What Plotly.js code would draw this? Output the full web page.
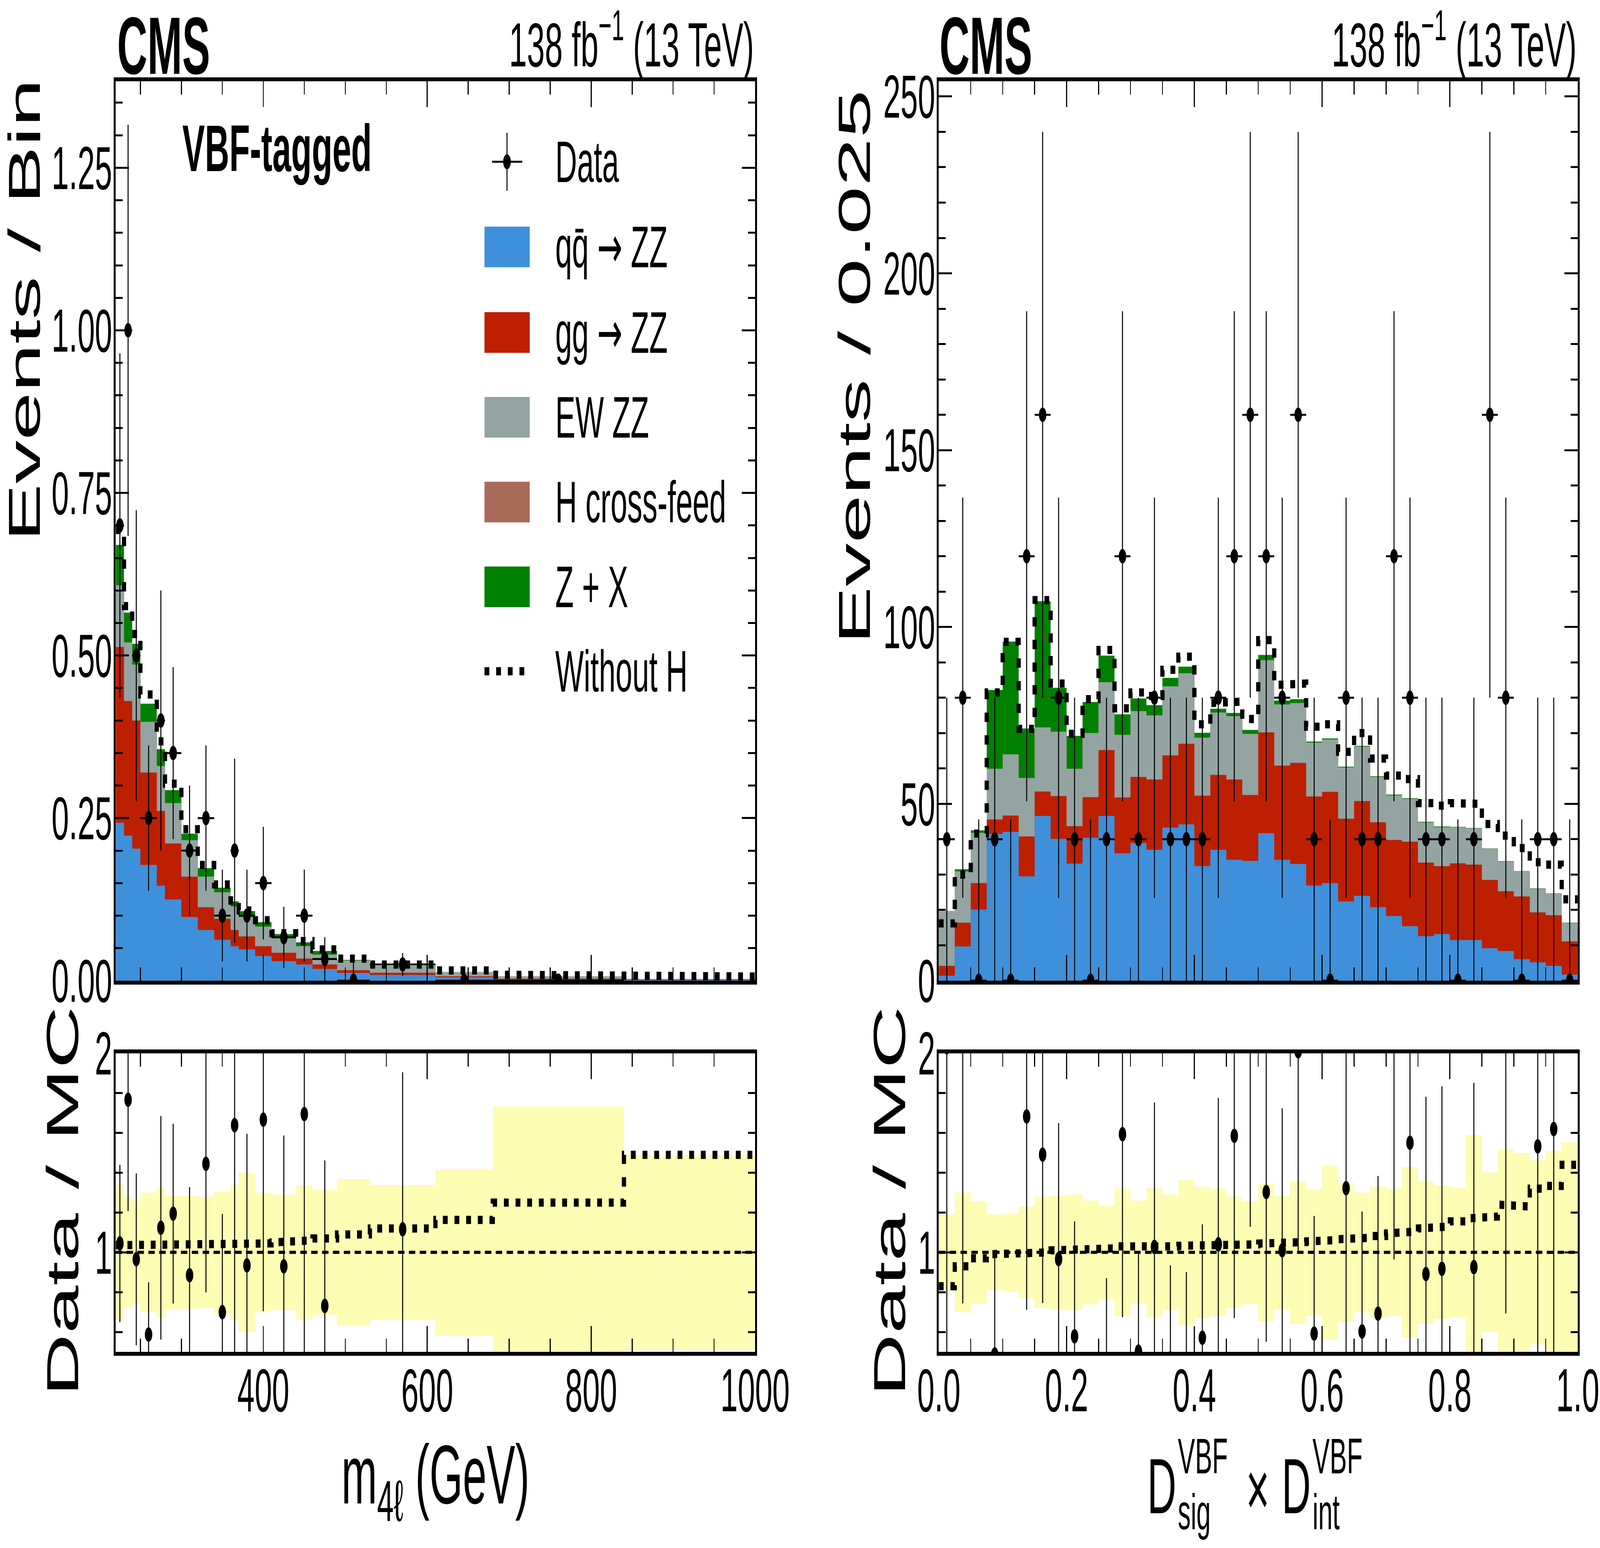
<!DOCTYPE html>
<html>
<head>
<meta charset="utf-8">
<script src="https://cdn.plot.ly/plotly-3.0.1.min.js"></script>
<style>html,body{margin:0;padding:0;background:#fff;overflow:hidden;}#chart{width:7959px;height:3962px;transform-origin:0 0;}</style>
</head>
<body>
<div id="chart"></div>
<script>
// ---------------- Left panel: m4l (GeV), VBF-tagged ----------------
const mEdges = [220,230,240,250,270,280,300,320,340,360,370,390,410,440,460,490,530,610,680,840,1000];
const mQQ  = [0.243,0.223,0.203,0.178,0.146,0.125,0.098,0.078,0.063,0.053,0.048,0.038,0.030,0.025,0.018,0.012,0.0088,0.0052,0.0015,0.0008];
const mGG  = [0.270,0.207,0.197,0.142,0.115,0.086,0.062,0.035,0.032,0.025,0.020,0.015,0.013,0.009,0.007,0.004,0.0034,0.0016,0.0015,0.0007];
const mEW  = [0.095,0.090,0.086,0.078,0.069,0.062,0.056,0.047,0.041,0.036,0.030,0.030,0.023,0.019,0.015,0.015,0.0096,0.0064,0.0036,0.0010];
const mHX  = [0,0,0,0,0,0,0,0,0,0,0,0,0,0,0,0,0,0,0,0];
const mZX  = [0.062,0.046,0.032,0.028,0.026,0.020,0.010,0.013,0.007,0.008,0.009,0.007,0.0057,0.006,0.0056,0.001,0.0006,0.0002,0.0002,0.0001];
const mNoH = [0.693,0.576,0.533,0.440,0.368,0.303,0.233,0.178,0.148,0.123,0.108,0.093,0.073,0.061,0.048,0.034,0.0248,0.0158,0.0092,0.0064];
const mCounts = [7,10,5,5,4,7,4,5,2,2,2,3,2,2,1,0,2,0,0,null];
const mUnc = [0.34,0.278,0.26,0.30,0.327,0.285,0.283,0.28,0.305,0.34,0.40,0.30,0.29,0.338,0.314,0.368,0.338,0.417,0.733,0.49];
const mRatioNoH = [1.036,1.036,1.036,1.036,1.036,1.036,1.036,1.04,1.04,1.042,1.042,1.045,1.05,1.06,1.07,1.09,1.12,1.163,1.25,1.49];

// ---------------- Right panel: D_sig x D_int ----------------
const dEdges = [0,0.025,0.05,0.075,0.1,0.125,0.15,0.175,0.2,0.225,0.25,0.275,0.3,0.325,0.35,0.375,0.4,0.425,0.45,0.475,0.5,0.525,0.55,0.575,0.6,0.625,0.65,0.675,0.7,0.725,0.75,0.775,0.8,0.825,0.85,0.875,0.9,0.925,0.95,0.975,1.0];
const dQQ = [1.4,9.7,20.1,41.5,42.1,29.5,46.6,40.1,33.1,40.4,46.6,36.0,38.9,37.0,43.3,44.2,32.4,37.0,34.2,33.9,41.7,34.2,33.0,26.9,27.6,22.4,24.0,20.8,18.3,15.4,12.6,13.2,11.5,11.5,9.2,8.4,6.1,5.2,4.2,1.7];
const dGG = [2.8,6.7,7.5,4.1,4.6,11.3,6.9,12.1,10.6,11.5,18.6,15.8,18.7,19.9,20.4,22.8,19.9,21.2,22.7,18.6,28.5,26.6,28.6,25.2,25.8,23.4,26.8,24.0,21.5,23.9,20.8,19.2,21.7,21.3,19.3,16.9,17.7,14.1,14.3,9.4];
const dEW = [15.5,14.5,14.2,14.3,17.3,16.5,18.1,18.2,16.2,18.1,19.2,17.7,18.6,18.1,19.5,19.9,16.4,17.6,17.9,17.3,20.4,17.3,16.9,15.2,14.8,14.5,15.4,12.8,12.6,12.1,11.3,11.0,10.2,10.3,8.8,8.4,7.1,6.7,6.1,5.2];
const dHX = [0,0,0,0,0,0,0,0,0,0,0,0,0,0,0,0,0,0,0,0,0,0,0,0,0,0,0,0,0,0,0,0,0,0,0,0,0,0,0,0];
const dZX = [0,0.6,0.7,22.3,31.9,14.0,35.7,12.4,9.3,8.8,7.5,5.8,3.6,2.9,2.4,1.9,1.4,1.1,0.9,1.1,1.5,1.1,1.1,0.3,0.3,0.2,0.2,0.2,0.2,0.2,0.2,0.2,0.1,0.1,0.1,0.1,0.1,0.1,0.1,0.1];
const dNoH = [16.2,30.0,41.6,81.5,95.8,71.2,107.6,84.0,69.8,79.6,93.5,77.0,81.5,80.5,87.9,91.6,72.5,78.5,78.9,74.0,96.3,83.6,84.0,71.8,72.5,64.7,70.0,62.8,58.0,57.0,50.2,49.5,50.2,50.0,44.3,41.0,37.5,33.5,32.8,23.0];
const dCounts = [1,2,0,1,0,3,4,2,1,0,1,3,1,2,1,1,1,2,3,4,3,2,4,1,0,2,1,1,3,2,1,1,0,1,4,2,0,1,1,0];
const dUnc = [0.19,0.30,0.256,0.19,0.195,0.23,0.28,0.286,0.29,0.26,0.235,0.32,0.26,0.326,0.29,0.365,0.33,0.32,0.28,0.258,0.346,0.285,0.36,0.316,0.435,0.35,0.30,0.33,0.32,0.428,0.36,0.334,0.325,0.59,0.40,0.52,0.50,0.463,0.51,0.554];
const dRatioNoH = [0.83,0.93,0.97,0.99,1.0,1.0,1.0,1.01,1.02,1.02,1.02,1.03,1.02,1.03,1.03,1.033,1.036,1.038,1.04,1.04,1.044,1.05,1.052,1.055,1.062,1.066,1.073,1.082,1.095,1.105,1.12,1.13,1.156,1.17,1.18,1.24,1.23,1.32,1.334,1.44];

const zeroCountErr = 1.14; // upper error drawn for empty bins (events)

// Legend / text
const ARROW = '<span style="font-family:DejaVu Sans">\u2192</span>';
const legendLabels = ['Data','qq\u0304 ' + ARROW + ' ZZ','gg ' + ARROW + ' ZZ','EW ZZ','H cross-feed','Z + X','Without H'];
const COL = {qq:'#3f90da', gg:'#bd1f01', ew:'#94a4a2', hx:'#a96b59', zx:'#008000', band:'#fdfdb4'};

// ---------------- helpers ----------------
const W = 7959, H = 3962;
const FONT = 'Liberation Sans, Arial, Helvetica, sans-serif';
const px = x => x / W;
const py = y => 1 - y / H;

function stepXY(edges, vals) {
  const xs = [], ys = [];
  for (let i = 0; i < vals.length; i++) {
    xs.push(edges[i], edges[i+1]);
    ys.push(vals[i], vals[i]);
  }
  return {xs, ys};
}
function cum(arrs) {
  const out = []; let run = arrs[0].map(() => 0);
  for (const a of arrs) { run = run.map((v, i) => v + a[i]); out.push(run.slice()); }
  return out;
}
function fillTrace(edges, vals, color, xa, ya) {
  const s = stepXY(edges, vals);
  return {type:'scatter', mode:'lines', x:s.xs, y:s.ys, line:{width:0, color:color},
          fill:'tozeroy', fillcolor:color, xaxis:xa, yaxis:ya, hoverinfo:'skip', showlegend:false};
}
function lineTrace(edges, vals, xa, ya, width, dash) {
  const s = stepXY(edges, vals);
  return {type:'scatter', mode:'lines', x:s.xs, y:s.ys, line:{width:width, color:'black', dash:dash},
          xaxis:xa, yaxis:ya, hoverinfo:'skip', showlegend:false};
}
function bandTrace(edges, unc, xa, ya) {
  const up = stepXY(edges, unc.map(u => 1 + u));
  const lo = stepXY(edges, unc.map(u => 1 - u));
  return {type:'scatter', mode:'lines', x:up.xs.concat(lo.xs.slice().reverse()),
          y:up.ys.concat(lo.ys.slice().reverse()), fill:'toself', fillcolor:COL.band,
          line:{width:0, color:COL.band}, xaxis:xa, yaxis:ya, hoverinfo:'skip', showlegend:false};
}

const DOT = '24px,34px';
const traces = [];

function buildPanel(edges, qq, gg, ew, hx, zx, noH, counts, unc, ratioNoH, xa, ya, xr, yr) {
  const c = cum([qq, gg, ew, hx, zx]);
  const total = c[4];
  traces.push(fillTrace(edges, c[4], COL.zx, xa, ya));
  traces.push(fillTrace(edges, c[3], COL.hx, xa, ya));
  traces.push(fillTrace(edges, c[2], COL.ew, xa, ya));
  traces.push(fillTrace(edges, c[1], COL.gg, xa, ya));
  traces.push(fillTrace(edges, c[0], COL.qq, xa, ya));
  traces.push(lineTrace(edges, noH, xa, ya, 21, DOT));
  const dx = [], dy = [], de = [], dw = [];
  const rx = [], ry = [], re = [];
  for (let i = 0; i < counts.length; i++) {
    const n = counts[i];
    if (n === null) continue;
    const w = edges[i+1] - edges[i];
    const v = n / w;
    dx.push((edges[i] + edges[i+1]) / 2); dy.push(v);
    de.push((n > 0 ? Math.sqrt(n) : zeroCountErr) / w); dw.push(w / 2);
    if (n > 0) { rx.push((edges[i] + edges[i+1]) / 2); ry.push(v / total[i]); re.push(Math.sqrt(n) / w / total[i]); }
  }
  traces.push({type:'scatter', mode:'markers', x:dx, y:dy, xaxis:xa, yaxis:ya,
    marker:{size:37, color:'black'},
    error_y:{type:'data', array:de, visible:true, color:'black', thickness:5, width:0},
    error_x:{type:'data', array:dw, visible:true, color:'black', thickness:5, width:0},
    hoverinfo:'skip', showlegend:false});
  traces.push(bandTrace(edges, unc, xr, yr));
  traces.push({type:'scatter', mode:'lines', x:[edges[0], edges[edges.length-1]], y:[1,1],
    line:{color:'black', width:8, dash:'32px,22px'}, xaxis:xr, yaxis:yr, hoverinfo:'skip', showlegend:false});
  traces.push(lineTrace(edges, ratioNoH, xr, yr, 21, DOT));
  traces.push({type:'scatter', mode:'markers', x:rx, y:ry, xaxis:xr, yaxis:yr,
    marker:{size:37, color:'black'},
    error_y:{type:'data', array:re, visible:true, color:'black', thickness:5, width:0},
    hoverinfo:'skip', showlegend:false});
}

buildPanel(mEdges, mQQ, mGG, mEW, mHX, mZX, mNoH, mCounts, mUnc, mRatioNoH, 'x', 'y', 'x2', 'y2');
buildPanel(dEdges, dQQ, dGG, dEW, dHX, dZX, dNoH, dCounts, dUnc, dRatioNoH, 'x3', 'y3', 'x4', 'y4');

// ---------------- axes ----------------
function ax(extra, minor) {
  return Object.assign({
    showline:true, linecolor:'black', linewidth:10, mirror:'ticks',
    ticks:'inside', ticklen:66, tickwidth:5, tickcolor:'black',
    showgrid:false, zeroline:false, fixedrange:true,
    tickfont:{family:FONT, size:155, color:'black'},
    minor:Object.assign({ticks:'inside', ticklen:34, tickwidth:5, tickcolor:'black', showgrid:false}, minor)
  }, extra);
}
const LX = [px(576), px(3756)], RX = [px(4670), px(7848)];
const TY = [py(2510), py(208)], BY = [py(3460), py(2696)];
const YSO = -23, XSO = -44;

const layout = {
  width:W, height:H, margin:{l:0, r:0, t:0, b:0},
  paper_bgcolor:'white', plot_bgcolor:'white', showlegend:false,
  font:{family:FONT, color:'black'},
  xaxis:  ax({domain:LX, anchor:'y',  range:[220,1000], dtick:200, tick0:0, showticklabels:false}, {dtick:50, tick0:0}),
  yaxis:  ax({domain:TY, anchor:'x',  range:[0,1.383], dtick:0.25, tick0:0, tickformat:'.2f', ticklabelstandoff:YSO}, {dtick:0.05, tick0:0}),
  xaxis2: ax({domain:LX, anchor:'y2', range:[220,1000], dtick:200, tick0:0, ticklabelstandoff:XSO}, {dtick:50, tick0:0}),
  yaxis2: ax({domain:BY, anchor:'x2', range:[0.5,2], dtick:1, tick0:0, ticklabelstandoff:YSO}, {dtick:0.2, tick0:0}),
  xaxis3: ax({domain:RX, anchor:'y3', range:[0,1], dtick:0.2, tick0:0, showticklabels:false}, {dtick:0.05, tick0:0}),
  yaxis3: ax({domain:TY, anchor:'x3', range:[0,254.3], dtick:50, tick0:0, ticklabelstandoff:YSO}, {dtick:10, tick0:0}),
  xaxis4: ax({domain:RX, anchor:'y4', range:[0,1], dtick:0.2, tick0:0, tickformat:'.1f', ticklabelstandoff:XSO}, {dtick:0.05, tick0:0}),
  yaxis4: ax({domain:BY, anchor:'x4', range:[0.5,2], dtick:1, tick0:0, ticklabelstandoff:YSO}, {dtick:0.2, tick0:0}),
  annotations:[], shapes:[]
};

function ann(text, x, y, size, opts) {
  layout.annotations.push(Object.assign({text:text, x:px(x), y:py(y), xref:'paper', yref:'paper',
    showarrow:false, font:{family:FONT, size:size, color:'black'}, xanchor:'left', yanchor:'middle', borderpad:0}, opts || {}));
}

// headers
ann('<b>CMS</b>', 582, 0, 208, {yanchor:'top'});
ann('<b>CMS</b>', 4672, 0, 208, {yanchor:'top'});
ann('138 fb<sup>\u22121</sup> (13 TeV)', 3752, 1, 160, {xanchor:'right', yanchor:'top'});
ann('138 fb<sup>\u22121</sup> (13 TeV)', 7844, 1, 160, {xanchor:'right', yanchor:'top'});
ann('<b>VBF-tagged</b>', 906, 380, 168);

// axis titles
ann('Events / Bin', 122, 794, 222, {textangle:-90, xanchor:'center'});
ann('Data / MC', 311, 3075, 222, {textangle:-90, xanchor:'center'});
ann('Events / 0.025', 4250, 940, 222, {textangle:-90, xanchor:'center'});
ann('Data / MC', 4425, 3075, 222, {textangle:-90, xanchor:'center'});
ann('m<sub>4\u2113</sub> (GeV)', 2166, 3790, 213, {xanchor:'center'});
// right x title: D_sig^VBF x D_int^VBF (super- and subscripts stacked)
const SCR = t => '<span style="font-size:128px">' + t + '</span>';
ann('D', 5779, 3803, 200, {xanchor:'center'});
ann(SCR('VBF') + '<br>' + SCR('sig'), 5858, 3654, 110, {yanchor:'top', align:'left'});
ann('\u00d7', 6256, 3810, 200, {xanchor:'center'});
ann('D', 6448, 3803, 200, {xanchor:'center'});
ann(SCR('VBF') + '<br>' + SCR('int'), 6528, 3654, 110, {yanchor:'top', align:'left'});

// legend
const rows = [414, 632, 851, 1068, 1285, 1502, 1718];
const boxCols = [null, COL.qq, COL.gg, COL.ew, COL.hx, COL.zx, null];
rows.forEach((ry, i) => {
  ann(legendLabels[i], 2761, ry, 150);
  if (boxCols[i]) {
    layout.shapes.push({type:'rect', xref:'paper', yref:'paper', x0:px(2410), x1:px(2635), y0:py(ry+52), y1:py(ry-52),
      fillcolor:boxCols[i], line:{width:0}});
  }
});
layout.shapes.push({type:'line', xref:'paper', yref:'paper', x0:px(2448), x1:px(2598), y0:py(rows[0]), y1:py(rows[0]), line:{color:'black', width:5}});
layout.shapes.push({type:'line', xref:'paper', yref:'paper', x0:px(2522), x1:px(2522), y0:py(340), y1:py(488), line:{color:'black', width:5}});
layout.shapes.push({type:'circle', xref:'paper', yref:'paper', x0:px(2522-19), x1:px(2522+19), y0:py(rows[0]+19), y1:py(rows[0]-19), fillcolor:'black', line:{width:0}});
layout.shapes.push({type:'line', xref:'paper', yref:'paper', x0:px(2410), x1:px(2620), y0:py(rows[6]), y1:py(rows[6]), line:{color:'black', width:21, dash:DOT}});

// fit the full-size chart into the actual window if it is smaller than requested
const el = document.getElementById('chart');
const vw = document.documentElement.clientWidth || window.innerWidth || W;
const vh = document.documentElement.clientHeight || window.innerHeight || H;
const sx = Math.min(1, vw / W), sy = Math.min(1, vh / H);
if (sx < 1 || sy < 1) el.style.transform = 'scale(' + sx + ',' + sy + ')';

Plotly.newPlot('chart', traces, layout, {staticPlot:true, displayModeBar:false});
</script>
</body>
</html>
